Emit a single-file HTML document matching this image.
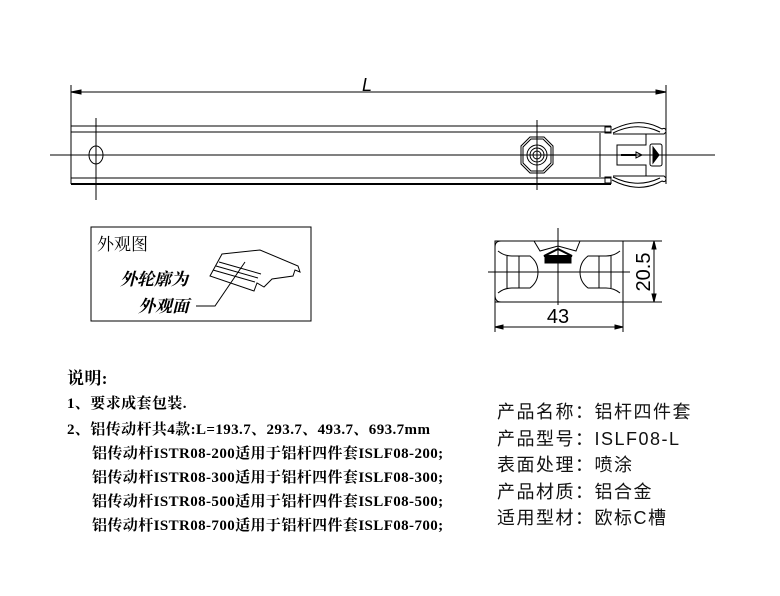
<!DOCTYPE html>
<html><head><meta charset="utf-8"><style>
body{margin:0;background:#fff;width:780px;height:596px;overflow:hidden;position:relative}
.n{position:absolute;font-family:"Liberation Serif","Noto Serif CJK SC",serif;font-weight:bold;font-size:15px;letter-spacing:0.4px;color:#000;white-space:nowrap}
.r{position:absolute;font-family:"Liberation Sans","Noto Sans CJK SC",sans-serif;font-size:18px;letter-spacing:1.5px;color:#111;white-space:nowrap}
</style></head><body>
<svg width="780" height="596" style="position:absolute;left:0;top:0" fill="none" stroke="#000" stroke-width="1">
<line x1="71" y1="85" x2="71" y2="127"/><line x1="666" y1="85" x2="666" y2="184"/>
<line x1="71" y1="92" x2="666" y2="92"/>
<path d="M71 92 l10 -2 v4z M666 92 l-10 -2 v4z" fill="#000"/>
<text x="362" y="91" font-family="Liberation Sans" font-style="italic" font-size="18" fill="#000" stroke="none">L</text>
<line x1="71" y1="126" x2="611" y2="126"/><line x1="71" y1="132" x2="611" y2="132"/>
<line x1="71" y1="178" x2="611" y2="178"/><line x1="71" y1="184" x2="611" y2="184" stroke-width="2"/>
<line x1="71" y1="126" x2="71" y2="184"/>
<line x1="611" y1="126" x2="611" y2="132"/><line x1="611" y1="178" x2="611" y2="184"/>
<line x1="50" y1="155" x2="715" y2="155"/>
<line x1="96" y1="118" x2="96" y2="200"/>
<line x1="537" y1="120" x2="537" y2="190"/>
<ellipse cx="96" cy="155" rx="7" ry="9"/>
<polygon points="530,137 544,137 553,146 553,164 544,173 530,173 521,164 521,146"/>
<polygon points="531,139 543,139 551,147 551,163 543,171 531,171 523,163 523,147"/>
<circle cx="537" cy="155" r="10"/><circle cx="537" cy="155" r="7"/><circle cx="537" cy="155" r="4"/>
<line x1="600" y1="133" x2="600" y2="177"/>
<path d="M605 127 h6 v6 h-6z M605 177 h6 v6 h-6z"/>
<path d="M612 130 Q637 117 658 127 L662 129 Q666 127 666 132 L664 134 L613 134"/>
<path d="M613 133 Q637 121 660 132"/>
<path d="M612 180 Q637 193 658 183 L662 181 Q666 183 666 178 L664 176 L613 176"/>
<path d="M613 177 Q637 189 660 178"/>
<path d="M646 134 v11 h-29 v20 h29 v11"/>
<rect x="650" y="144" width="12" height="22" rx="2"/>
<path d="M653 147 l6 8 l-6 8z" fill="#000"/>
<line x1="621" y1="155" x2="636" y2="155" stroke-width="2"/>
<path d="M636 152 l6 3 l-6 3z"/>
<rect x="91" y="227" width="220" height="94"/>
<path d="M222 254 L260 250 L298 266 L300 272 L295 270 L293 276 L272 279 L264 287 L257 283 L254 291 L210 276 Z"/>
<path d="M213 270 L255 282 M216 266 L258 278 M219 262 L261 274"/>
<path d="M196 306 L215 306 L245 262"/>
<path d="M495 241 H623 V302 H495 Z"/>
<path d="M501 241 Q495 241 495 247 V295 Q495 302 501 302"/>
<path d="M498 251 Q504 256 512 256 H530 Q538 262 538 272 Q538 282 530 288 H512 Q504 288 498 293"/>
<path d="M620 251 Q614 256 606 256 H588 Q580 262 580 272 Q580 282 588 288 H606 Q614 288 620 293"/>
<line x1="507" y1="256" x2="507" y2="288"/><line x1="519" y1="256" x2="519" y2="288"/>
<line x1="599" y1="256" x2="599" y2="288"/><line x1="611" y1="256" x2="611" y2="288"/>
<path d="M534 241 L540 251 L558 246 L576 251 L580 241"/>
<path d="M544 256 L558 249 L572 256 Z" stroke-width="2"/>
<rect x="545" y="257" width="26" height="6" fill="#000"/>
<line x1="558" y1="228" x2="558" y2="305"/>
<line x1="488" y1="272" x2="630" y2="272"/>
<line x1="623" y1="241" x2="662" y2="241"/><line x1="623" y1="302" x2="662" y2="302"/>
<line x1="654" y1="241" x2="654" y2="302"/>
<path d="M654 241 l-2 8 h4z M654 302 l-2 -8 h4z" fill="#000"/>
<line x1="495" y1="302" x2="495" y2="332"/><line x1="623" y1="302" x2="623" y2="332"/>
<line x1="495" y1="327" x2="623" y2="327"/>
<path d="M495 327 l8 -2 v4z M623 327 l-8 -2 v4z" fill="#000"/>
<text x="558" y="323" text-anchor="middle" font-family="Liberation Sans" font-size="20" fill="#000" stroke="none">43</text>
<text transform="translate(650,272) rotate(-90)" text-anchor="middle" font-family="Liberation Sans" font-size="20" fill="#000" stroke="none">20.5</text>
</svg>
<div class="n" style="left:97px;top:230px;font-size:17px;font-weight:normal;letter-spacing:0">外观图</div>
<div class="n" style="left:120px;top:265px;font-size:17px;font-style:italic;letter-spacing:0">外轮廓为</div>
<div class="n" style="left:138px;top:292px;font-size:17px;font-style:italic;letter-spacing:0">外观面</div>
<div class="n" style="left:67px;top:364px;font-size:17px">说明:</div>
<div class="n" style="left:67px;top:392px">1、要求成套包装.</div>
<div class="n" style="left:67px;top:418px">2、铝传动杆共4款:L=193.7、293.7、493.7、693.7mm</div>
<div class="n" style="left:92px;top:442px">铝传动杆ISTR08-200适用于铝杆四件套ISLF08-200;</div>
<div class="n" style="left:92px;top:466px">铝传动杆ISTR08-300适用于铝杆四件套ISLF08-300;</div>
<div class="n" style="left:92px;top:490px">铝传动杆ISTR08-500适用于铝杆四件套ISLF08-500;</div>
<div class="n" style="left:92px;top:514px">铝传动杆ISTR08-700适用于铝杆四件套ISLF08-700;</div>
<div class="r" style="left:497px;top:398px">产品名称：铝杆四件套</div>
<div class="r" style="left:497px;top:425px">产品型号：ISLF08-L</div>
<div class="r" style="left:497px;top:451px">表面处理：喷涂</div>
<div class="r" style="left:497px;top:478px">产品材质：铝合金</div>
<div class="r" style="left:497px;top:504px">适用型材：欧标C槽</div>
</body></html>
